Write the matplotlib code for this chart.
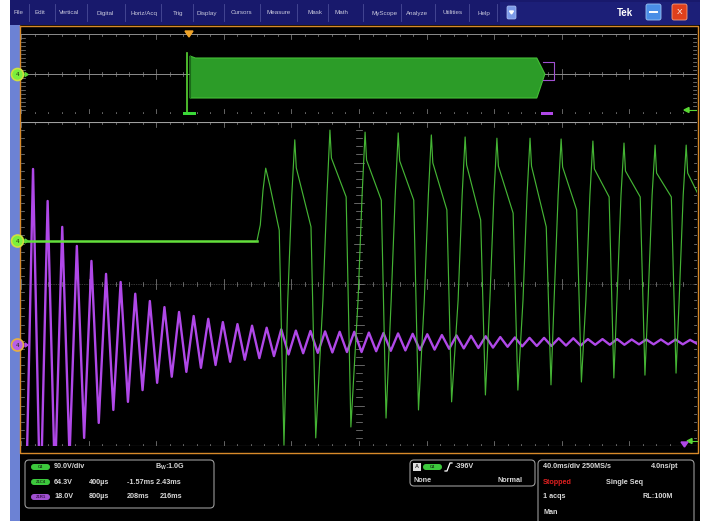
import matplotlib
matplotlib.use("Agg")
import numpy as np
import matplotlib.pyplot as plt
from matplotlib.patches import Rectangle, FancyBboxPatch, Circle, Polygon

plt.rcParams['font.family'] = ['Liberation Sans', 'DejaVu Sans']

# ---------------- data (screen divisions: x 0..10, y -4..4) ----------------
# Channel 4 (green) in the main window
ch4_baseline = 1.06
ch4_edge_x = [3.49, 3.54, 3.58]
ch4_edge_y = [1.06, 1.46, 2.32]
ch4_peak_x = [3.62, 4.05, 4.57, 5.09, 5.58, 6.07, 6.57, 7.04, 7.53, 7.99, 8.46, 8.92, 9.38, 9.84]
ch4_peak_y = [2.86, 3.56, 3.80, 3.75, 3.73, 3.68, 3.63, 3.60, 3.60, 3.58, 3.53, 3.48, 3.43, 3.43]
ch4_decay_x = [3.82, 4.29, 4.81, 5.33, 5.81, 6.30, 6.80, 7.28, 7.77, 8.22, 8.70, 9.16, 9.62, 10.08]
ch4_decay_y = [1.33, 1.41, 2.15, 2.07, 2.07, 1.83, 1.58, 1.75, 1.41, 1.83, 2.15, 2.15, 2.15, 2.00]
ch4_min_y = [-3.98, -3.80, -3.53, -3.31, -3.11, -2.91, -2.74, -2.62, -2.49, -2.42, -2.32, -2.25, -2.20, -2.20]

# Purple trace: damped oscillation, amplitude of each cycle (divisions)
purple_center = -1.43
purple_first_peak = 0.178
purple_period = 0.216
purple_amp = [4.27, 3.48, 2.84, 2.37, 2.00, 1.68, 1.48, 1.19, 1.01, 0.86,
              0.74, 0.64, 0.57, 0.49, 0.44, 0.40, 0.35, 0.31, 0.28, 0.27,
              0.26, 0.25, 0.25, 0.23, 0.22, 0.21, 0.20, 0.19, 0.17, 0.16,
              0.15, 0.14, 0.12, 0.11, 0.10, 0.10, 0.09, 0.09, 0.07, 0.07,
              0.07, 0.06, 0.06, 0.06, 0.06, 0.05]

# Overview (whole record) burst envelope
ov_burst_start = 2.46
ov_burst_end = 7.63
ov_burst_tip = 7.75
ov_burst_top = 0.80
ov_burst_bottom = -1.20

# Texts
menu_items = ["File", "Edit", "Vertical", "Digital", "Horiz/Acq", "Trig", "Display",
              "Cursors", "Measure", "Mask", "Math", "MyScope", "Analyze", "Utilities", "Help"]
row1 = ["90.0V/div", r"$\mathregular{B_W}$:1.0G"]
row2 = ["64.3V", "400µs", "-1.57ms 2.43ms"]
row3 = ["18.0V", "800µs", "208ms", "216ms"]
trig_texts = ["-396V", "None", "Normal"]
acq_texts = ["40.0ms/div 250MS/s", "4.0ns/pt", "Stopped", "Single Seq", "1 acqs", "RL:100M", "Man"]

# ---------------- layout ----------------
W, H = 706, 521
GREEN = '#5ad834'
GREEN_T = '#4cc83a'
PURPLE = '#b048e8'
GRID = '#8c8c8c'
TXT = '#d8d8d8'

fig = plt.figure(figsize=(W / 100, H / 100), dpi=100)
fig.patch.set_facecolor('white')

bg = fig.add_axes([0, 0, 1, 1])
bg.set_xlim(0, W); bg.set_ylim(H, 0); bg.axis('off'); bg.set_zorder(0)

def rect(ax, x0, y0, x1, y1, **kw):
    ax.add_patch(Rectangle((x0, y0), x1 - x0, y1 - y0, **kw))

# menu bar
rect(bg, 10, 0, 700, 25, color='#18196c', lw=0)
rect(bg, 500, 2, 700, 25, color='#1c1f78', lw=0)
menu_x = [18, 40, 69, 105, 144, 178, 207, 241, 279, 315, 341, 385, 417, 453, 484]
for i, (mx, lab) in enumerate(zip(menu_x, menu_items)):
    bg.text(mx, 13, lab, color='#c8c8dc', fontsize=4.5, ha='center', va='center')
    if i < len(menu_x) - 1:
        sx = (mx + menu_x[i + 1]) / 2
        bg.plot([sx, sx], [4, 21], color='#4a4c98', lw=0.6)
bg.plot([497, 497], [4, 21], color='#4a4c98', lw=0.6)
bg.add_patch(FancyBboxPatch((507, 6), 9, 13, boxstyle="round,pad=0,rounding_size=1.5",
                            fc='#7c9ae8', ec='#b0c4f4', lw=0.5))
bg.add_patch(Polygon([[509.5, 11], [513.5, 11], [511.5, 14]], closed=True, color='white'))
bg.text(633, 12.5, "Tek", color='white', fontsize=7, fontweight='bold', ha='right', va='center')
bg.add_patch(FancyBboxPatch((646, 4), 15, 16, boxstyle="round,pad=0,rounding_size=2",
                            fc='#4a8ee6', ec='#9cc4f4', lw=0.6))
bg.plot([650, 657], [12, 12], color='white', lw=1.4)
bg.add_patch(FancyBboxPatch((672, 4), 15, 16, boxstyle="round,pad=0,rounding_size=2",
                            fc='#e0401c', ec='#f4a080', lw=0.6))
bg.text(679.5, 12, "X", color='white', fontsize=6, ha='center', va='center')

# left blue strip, display area, bottom panel
rect(bg, 10, 25, 20, H, color='#6c82d4', lw=0)
rect(bg, 20, 25, 700, H, color='black', lw=0)
bg.plot([20, 20, 698, 698, 20], [26, 453, 453, 26, 26], color='#d88a2a', lw=1.0)

# ---------------- bottom info panel ----------------
def box(x0, y0, x1, y1):
    bg.add_patch(FancyBboxPatch((x0, y0), x1 - x0, y1 - y0,
                                boxstyle="round,pad=0,rounding_size=4",
                                fc='black', ec='#9a9a9a', lw=0.8))

def pill(x, y, color, lab):
    bg.add_patch(FancyBboxPatch((x, y - 3), 19, 6, boxstyle="round,pad=0,rounding_size=3",
                                fc=color, ec='none'))
    bg.text(x + 9.5, y, lab, color='#1a3a1a' if color != '#a050d0' else '#3a1050',
            fontsize=3, ha='center', va='center', fontweight='bold')

def t(x, y, s, ha='left', color=TXT, fs=5.2):
    bg.text(x, y, s, color=color, fontsize=fs, ha=ha, va='center', fontweight='bold')

box(25, 460, 214, 508)
pill(31, 467, '#3cc83c', "C4")
t(54, 467, row1[0]); t(155, 467, row1[1])
pill(31, 482, '#3cc83c', "Z1C4")
t(54, 482, row2[0]); t(89, 482, row2[1]); t(127, 482, row2[2])
pill(31, 497, '#a050d0', "Z1R1")
t(54, 497, row3[0]); t(89, 497, row3[1]); t(127, 497, row3[2]); t(160, 497, row3[3])

box(410, 460, 535, 486)
rect(bg, 413, 463, 421, 471, fc='#e0e0e0', ec='none')
bg.text(417, 467, "A", color='#303030', fontsize=4, ha='center', va='center', fontweight='bold')
pill(423, 467, '#3cc83c', "C4")
bg.plot([445, 447, 450, 452], [471, 471, 463, 463], color='white', lw=0.9)
t(455, 466.5, trig_texts[0])
t(414, 480, trig_texts[1]); t(523, 480, trig_texts[2], ha='right')

box(538, 460, 694, 540)
t(543, 467, acq_texts[0]); t(678, 467, acq_texts[1], ha='right')
t(543, 482, acq_texts[2], color='#e02020'); t(606, 482, acq_texts[3])
t(543, 497, acq_texts[4]); t(673, 497, acq_texts[5], ha='right')
t(543, 512, acq_texts[6])

# ---------------- overview axes ----------------
def px_axes(x0, y0, x1, y1):
    return fig.add_axes([x0 / W, 1 - y1 / H, (x1 - x0) / W, (y1 - y0) / H])

ov = px_axes(21, 34, 697, 114)
ov.set_xlim(0, 10); ov.set_ylim(-2, 2); ov.axis('off'); ov.set_zorder(1)
ov.patch.set_alpha(0)
for yy in (2, 0, -2):
    ov.plot([0, 10], [yy, yy], color=GRID, lw=0.7, zorder=1)
    for k in range(51):
        xx = k * 0.2
        L = 0.25 if k % 5 == 0 else 0.1
        ov.plot([xx, xx], [yy - L, yy + L], color=GRID, lw=0.5, zorder=1)
for k in range(1, 10):
    ov.scatter([k] * 21, np.linspace(-2, 2, 21), s=0.4, c='#6a6a6a', marker='s', linewidths=0, zorder=1)
for k in range(21):
    yy = -2 + k * 0.2
    ov.plot([0, 0.06], [yy, yy], color=GRID, lw=0.5)
    ov.plot([9.94, 10], [yy, yy], color=GRID, lw=0.5)
ov.add_patch(Polygon([[ov_burst_start + 0.04, ov_burst_top + 0.1], [ov_burst_start + 0.12, ov_burst_top],
                      [ov_burst_end, ov_burst_top], [ov_burst_tip, 0], [ov_burst_end, ov_burst_bottom],
                      [ov_burst_start + 0.04, ov_burst_bottom]], closed=True,
                     fc='#2c9c28', ec='#44c036', lw=0.8, zorder=3))
ov.plot([ov_burst_start, ov_burst_start], [1.05, -1.9], color=GREEN, lw=1.2, zorder=4)
ov.plot([ov_burst_start + 0.04, ov_burst_start + 0.04], [ov_burst_top + 0.1, ov_burst_bottom],
        color='#1a6a18', lw=0.8, zorder=4)

# ---------------- main axes ----------------
ax = px_axes(21, 122, 697, 446)
ax.set_xlim(0, 10); ax.set_ylim(-4, 4); ax.axis('off'); ax.set_zorder(1)
ax.patch.set_alpha(0)
for k in range(1, 10):
    if k != 5:
        ax.scatter([k] * 41, np.linspace(-4, 4, 41), s=0.4, c='#5c5c5c', marker='s', linewidths=0)
for j in range(-3, 4):
    if j != 0:
        ax.scatter(np.linspace(0, 10, 51), [j] * 51, s=0.4, c='#5c5c5c', marker='s', linewidths=0)
ax.scatter([5] * 81, np.linspace(-4, 4, 81), s=0.5, c='#8a8a8a', marker='s', linewidths=0)
ax.plot([0, 10], [0, 0], color='#6e6e6e', lw=0.5, ls=(0, (1, 1.5)))
for k in range(51):
    xx = k * 0.2
    L = 0.12 if k % 5 == 0 else 0.06
    ax.plot([xx, xx], [-L, L], color=GRID, lw=0.5)
    ax.plot([xx, xx], [4, 4 - L], color=GRID, lw=0.5)
    ax.plot([xx, xx], [-4, -4 + L], color=GRID, lw=0.5)
for k in range(41):
    yy = -4 + k * 0.2
    L = 0.08 if k % 5 == 0 else 0.05
    ax.plot([5 - L, 5 + L], [yy, yy], color=GRID, lw=0.5)
    ax.plot([0, 0.05], [yy, yy], color=GRID, lw=0.5)
    ax.plot([9.95, 10], [yy, yy], color=GRID, lw=0.5)
ax.plot([0, 10], [4, 4], color='#a0a0a0', lw=0.8)
ax.plot([0, 10], [-4, -4], color='#a0a0a0', lw=0.8)

# purple trace
px_t = [purple_first_peak - purple_period / 2]
px_v = [purple_center - purple_amp[0]]
for k, a in enumerate(purple_amp):
    tk = purple_first_peak + k * purple_period
    px_t += [tk, tk + purple_period / 2]
    px_v += [purple_center + a, purple_center - a]
ax.plot(px_t, px_v, color=PURPLE, lw=1.7, zorder=3, solid_joinstyle='round')

# green trace
gx = [0.0] + ch4_edge_x
gy = [ch4_baseline] + ch4_edge_y
ax.plot(gx[:2], gy[:2], color='#64e03c', lw=1.8, zorder=4)
n = len(ch4_peak_x)
for i in range(n):
    xp, yp = ch4_peak_x[i], ch4_peak_y[i]
    gx.append(xp); gy.append(yp)
    if i == 0:
        gx.append(xp + 0.06); gy.append(yp - 0.42)
    else:
        gx.append(xp + 0.022); gy.append(yp - 0.69)
    gx.append(ch4_decay_x[i]); gy.append(ch4_decay_y[i])
    if i < n - 1:
        gx.append(ch4_decay_x[i] + 0.07); gy.append(ch4_min_y[i])
        xn = ch4_peak_x[i + 1]
        gx += [xn - 0.104, xn - 0.044]
        gy += [-0.4, 2.2]
ax.plot(gx[1:], gy[1:], color=GREEN_T, lw=0.85, alpha=0.9, zorder=4)

# ---------------- foreground markers ----------------
fg = fig.add_axes([0, 0, 1, 1])
fg.set_xlim(0, W); fg.set_ylim(H, 0); fg.axis('off'); fg.set_zorder(3)
fg.patch.set_alpha(0)

def chan_marker(y, fc, ec, arrow_c):
    fg.add_patch(Circle((17.5, y), 6, fc=fc, ec=ec, lw=1.2))
    fg.text(17.5, y + 0.3, "4", color='#203010', fontsize=4.5, ha='center', va='center')
    fg.add_patch(Polygon([[25, y - 2], [25, y + 2], [28, y]], closed=True, color=arrow_c))

chan_marker(74.5, '#7cf03c', '#d0e040', GREEN)
chan_marker(241, '#7cf03c', '#d0e040', GREEN)
chan_marker(345, '#b860e8', '#e8b040', PURPLE)

fg.add_patch(Polygon([[185, 31], [193, 31], [189, 37]], closed=True, color='#f0a428'))
rect(fg, 183, 111.5, 196, 115, color='#3ad838', lw=0)
rect(fg, 541, 111.5, 553, 115, color='#b048e8', lw=0)
fg.plot([543, 554, 554, 543], [62, 62, 80, 80], color='#a050d0', lw=0.8)
fg.add_patch(Polygon([[684, 110], [689, 107.5], [689, 112.5]], closed=True, color=GREEN))
fg.plot([689, 696], [110, 110], color=GREEN, lw=0.8)
fg.add_patch(Polygon([[687, 441], [692, 438.5], [692, 443.5]], closed=True, color=GREEN))
fg.plot([692, 697], [441, 441], color=GREEN, lw=0.8)
fg.add_patch(Polygon([[681, 442], [688, 442], [684.5, 447]], closed=True, color=PURPLE))

fig.savefig("out.png", dpi=100, facecolor=fig.get_facecolor())
